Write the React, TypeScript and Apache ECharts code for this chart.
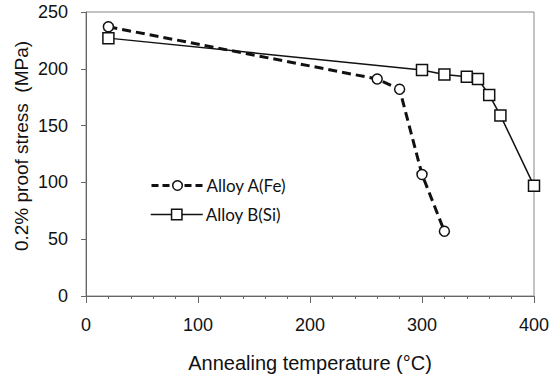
import React, { useEffect, useRef } from "react";
import * as echarts from "echarts";

const seriesNames = ["Alloy A(Fe)", "Alloy B(Si)"];
const alloyA: [number, number][] = [
  [20, 237],
  [260, 191],
  [280, 182],
  [300, 107],
  [320, 57],
];
const alloyB: [number, number][] = [
  [20, 227],
  [300, 199],
  [320, 195],
  [340, 193],
  [350, 191],
  [360, 177],
  [370, 159],
  [400, 97],
];
const xTitle = "Annealing temperature (°C)";
const yTitle = "0.2% proof stress  (MPa)";

export default function App() {
  const ref = useRef<HTMLDivElement>(null);
  useEffect(() => {
    if (!ref.current) return;
    const chart = echarts.init(ref.current, undefined, { renderer: "svg" });
    const axisColor = "#666";
    const labelFont = { color: "#111", fontSize: 18, fontFamily: "Liberation Sans, Arial, sans-serif" };
    chart.setOption({
      animation: false,
      backgroundColor: "#fff",
      grid: {
        left: 86,
        right: 19,
        top: 12,
        bottom: 73,
        show: true,
        borderColor: "#888",
        borderWidth: 1,
        backgroundColor: "transparent",
      },
      xAxis: {
        type: "value",
        min: 0,
        max: 400,
        interval: 100,
        name: xTitle,
        nameLocation: "middle",
        nameGap: 57,
        nameTextStyle: { color: "#111", fontSize: 20, fontFamily: "Liberation Sans, Arial, sans-serif" },
        axisLine: { show: true, lineStyle: { color: axisColor, width: 1 } },
        axisTick: { show: true, length: 7, lineStyle: { color: axisColor } },
        minorTick: { show: true, splitNumber: 5, length: 3, lineStyle: { color: axisColor } },
        splitLine: { show: false },
        axisLabel: { ...labelFont, margin: 20 },
      },
      yAxis: {
        type: "value",
        min: 0,
        max: 250,
        interval: 50,
        axisLine: { show: true, lineStyle: { color: axisColor, width: 1 } },
        axisTick: { show: true, length: 5, lineStyle: { color: axisColor } },
        splitLine: { show: false },
        axisLabel: { ...labelFont, margin: 18 },
      },
      legend: [
        {
          data: [seriesNames[0]],
          left: 145,
          top: 172,
          itemWidth: 52,
          itemHeight: 12,
          itemGap: 0,
          textStyle: { color: "#111", fontSize: 17, fontFamily: "Lato, sans-serif", padding: [0, 0, 0, -2] },
          lineStyle: { width: 3, type: [7, 4], color: "#111" },
          itemStyle: { color: "#fff", borderColor: "#111", borderWidth: 1.5 },
        },
        {
          data: [seriesNames[1]],
          left: 145,
          top: 201,
          itemWidth: 52,
          itemHeight: 13,
          itemGap: 0,
          textStyle: { color: "#111", fontSize: 17, fontFamily: "Lato, sans-serif", padding: [0, 0, 0, -2] },
          lineStyle: { width: 1.5, type: "solid", color: "#111" },
          itemStyle: { color: "#fff", borderColor: "#111", borderWidth: 1.5 },
        },
      ],
      graphic: [
        {
          type: "text",
          x: 21,
          y: 146,
          rotation: Math.PI / 2,
          style: {
            text: yTitle,
            fill: "#111",
            font: "19px 'Liberation Sans', Arial, sans-serif",
            textAlign: "center",
            textVerticalAlign: "middle",
          },
        },
      ],
      series: [
        {
          name: seriesNames[0],
          type: "line",
          data: alloyA,
          symbol: "circle",
          symbolSize: 10,
          lineStyle: { color: "#111", width: 3, type: [9, 5] },
          itemStyle: { color: "#fff", borderColor: "#111", borderWidth: 1.5 },
          z: 3,
        },
        {
          name: seriesNames[1],
          type: "line",
          data: alloyB,
          symbol: "rect",
          symbolSize: 11,
          lineStyle: { color: "#111", width: 1.5, type: "solid" },
          itemStyle: { color: "#fff", borderColor: "#111", borderWidth: 1.5 },
          z: 2,
        },
      ],
    });
    return () => chart.dispose();
  }, []);
  return (
    <div
      ref={ref}
      style={{ position: "fixed", left: 0, top: 0, width: 553, height: 378, background: "#fff" }}
    />
  );
}
